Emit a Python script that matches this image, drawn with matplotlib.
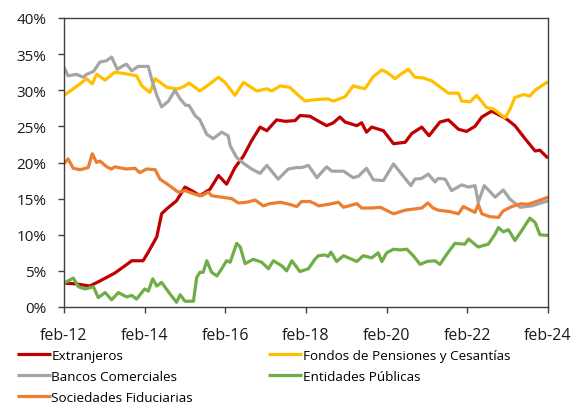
import matplotlib
matplotlib.use("Agg")
import matplotlib.pyplot as plt
from matplotlib.ticker import FuncFormatter, MultipleLocator

plt.rcParams["font.family"] = ["Open Sans", "DejaVu Sans"]

# Time axis: years elapsed since February 2012
tick_positions = [0, 2, 4, 6, 8, 10, 12]
tick_labels = ["feb-12", "feb-14", "feb-16", "feb-18", "feb-20", "feb-22", "feb-24"]

# Share of holdings (%) by investor type
ext_t = [0.0, 0.3, 0.64, 0.89, 1.26, 1.51, 1.68, 1.96, 2.09, 2.3, 2.42, 2.55, 2.79, 3.0,
         3.2, 3.37, 3.62, 3.83, 4.03, 4.24, 4.45, 4.65, 4.86, 5.03, 5.27, 5.48, 5.73, 5.85,
         6.1, 6.22, 6.51, 6.68, 6.84, 6.97, 7.26, 7.38, 7.5, 7.63, 7.92, 8.17, 8.46, 8.62,
         8.87, 9.05, 9.32, 9.53, 9.78, 9.98, 10.19, 10.36, 10.6, 10.93, 11.18, 11.43, 11.68,
         11.8, 12.0]
ext_v = [3.3, 3.2, 2.9, 3.6, 4.7, 5.7, 6.4, 6.4, 7.6, 9.7, 12.9, 13.6, 14.7, 16.6,
         16.0, 15.4, 16.3, 18.2, 17.0, 19.3, 20.9, 23.0, 24.9, 24.4, 25.9, 25.7, 25.8, 26.5,
         26.4, 26.0, 25.1, 25.5, 26.3, 25.6, 25.1, 25.5, 24.2, 24.9, 24.4, 22.6, 22.8, 24.0,
         24.9, 23.7, 25.6, 25.9, 24.6, 24.3, 25.0, 26.3, 27.1, 26.2, 25.1, 23.3, 21.6,
         21.7, 20.6]

fon_t = [0.0, 0.23, 0.4, 0.56, 0.7, 0.81, 1.02, 1.26, 1.51, 1.8, 1.93, 2.13, 2.26, 2.55,
         2.83, 3.0, 3.1, 3.37, 3.62, 3.83, 3.99, 4.24, 4.45, 4.78, 5.03, 5.15, 5.36, 5.6,
         5.81, 5.98, 6.22, 6.55, 6.68, 6.97, 7.17, 7.46, 7.67, 7.88, 8.0, 8.21, 8.37, 8.54,
         8.7, 8.91, 9.12, 9.53, 9.78, 9.86, 10.07, 10.23, 10.48, 10.65, 10.94, 11.06, 11.18,
         11.39, 11.55, 11.68, 12.0]
fon_v = [29.3, 30.2, 30.9, 31.6, 30.9, 32.2, 31.4, 32.5, 32.3, 32.0, 30.6, 29.7, 31.6, 30.4,
         30.2, 30.6, 31.0, 29.9, 30.9, 31.8, 31.1, 29.3, 31.1, 29.9, 30.2, 29.9, 30.6, 30.4,
         29.3, 28.5, 28.7, 28.8, 28.5, 29.1, 30.6, 30.2, 31.9, 32.8, 32.5, 31.6, 32.3, 32.9,
         31.8, 31.7, 31.3, 29.6, 29.6, 28.5, 28.4, 29.3, 27.6, 27.4, 26.2, 27.4, 29.0,
         29.4, 29.2, 30.0, 31.2]

ban_t = [0.0, 0.1, 0.31, 0.48, 0.56, 0.73, 0.89, 1.06, 1.18, 1.32, 1.47, 1.55, 1.68, 1.84,
         2.09, 2.17, 2.3, 2.42, 2.59, 2.75, 2.88, 3.02, 3.1, 3.25, 3.37, 3.54, 3.7, 3.91,
         4.07, 4.12, 4.28, 4.45, 4.65, 4.86, 5.03, 5.31, 5.56, 5.77, 5.9, 6.06, 6.27, 6.51,
         6.64, 6.93, 7.17, 7.3, 7.5, 7.67, 7.92, 8.17, 8.37, 8.6, 8.7, 8.87, 9.03, 9.2, 9.28,
         9.45, 9.61, 9.86, 10.03, 10.19, 10.27, 10.42, 10.69, 10.89, 11.06, 11.31, 11.6, 12.0]
ban_v = [33.2, 32.0, 32.2, 31.8, 32.2, 32.6, 33.9, 34.1, 34.6, 32.9, 33.4, 33.6, 32.7, 33.3,
         33.3, 31.6, 29.3, 27.7, 28.5, 30.0, 28.8, 27.9, 27.9, 26.5, 25.9, 23.9, 23.3, 24.2,
         23.7, 22.3, 20.7, 19.9, 19.1, 18.5, 19.6, 17.7, 19.1, 19.3, 19.3, 19.6, 17.9, 19.4,
         18.8, 18.8, 17.9, 18.1, 19.2, 17.6, 17.5, 19.8, 18.4, 16.8, 17.7, 17.8, 18.4, 17.3, 17.8,
         17.7, 16.1, 16.9, 16.6, 16.8, 14.5, 16.8, 15.2, 16.2, 14.9, 13.8, 14.0, 14.7]

ent_t = [0.0, 0.23, 0.36, 0.52, 0.73, 0.85, 1.02, 1.18, 1.35, 1.55, 1.68, 1.8, 2.0, 2.09,
         2.2, 2.3, 2.42, 2.63, 2.79, 2.88, 3.0, 3.21, 3.29, 3.37, 3.45, 3.54, 3.66, 3.79,
         3.91, 4.03, 4.12, 4.28, 4.37, 4.49, 4.69, 4.9, 5.07, 5.19, 5.4, 5.52, 5.65, 5.85,
         6.06, 6.22, 6.31, 6.47, 6.55, 6.62, 6.76, 6.93, 7.26, 7.42, 7.63, 7.79, 7.88, 8.0,
         8.17, 8.33, 8.5, 8.66, 8.83, 9.0, 9.2, 9.32, 9.49, 9.69, 9.94, 10.03, 10.27, 10.52,
         10.69, 10.77, 10.89, 11.02, 11.18, 11.34, 11.55, 11.68, 11.8, 12.0]
ent_v = [3.3, 4.0, 2.8, 2.5, 2.8, 1.3, 2.0, 1.0, 2.0, 1.4, 1.6, 1.1, 2.5, 2.2,
         3.9, 2.9, 3.4, 1.8, 0.65, 1.7, 0.8, 0.8, 4.1, 4.8, 4.8, 6.4, 4.8, 4.3,
         5.3, 6.4, 6.2, 8.8, 8.3, 6.0, 6.6, 6.2, 5.3, 6.4, 5.7, 5.0, 6.4, 4.9,
         5.3, 6.6, 7.1, 7.2, 7.0, 7.6, 6.3, 7.1, 6.3, 7.1, 6.8, 7.5, 6.3, 7.5,
         8.0, 7.9, 8.0, 7.1, 5.9, 6.3, 6.4, 5.9, 7.3, 8.8, 8.7, 9.4, 8.3, 8.7,
         10.1, 11.0, 10.4, 10.7, 9.2, 10.5, 12.3, 11.7, 10.0, 9.9]

soc_t = [0.0, 0.1, 0.23, 0.4, 0.6, 0.7, 0.81, 0.89, 1.06, 1.18, 1.26, 1.55, 1.76, 1.88,
         2.05, 2.26, 2.38, 2.59, 2.83, 3.0, 3.25, 3.41, 3.58, 3.66, 3.91, 4.16, 4.32, 4.53,
         4.74, 4.94, 5.1, 5.36, 5.6, 5.77, 5.89, 6.1, 6.22, 6.31, 6.55, 6.8, 6.93, 7.26,
         7.38, 7.63, 7.84, 8.17, 8.46, 8.87, 9.02, 9.15, 9.28, 9.57, 9.78, 9.9, 10.19, 10.27,
         10.36, 10.56, 10.77, 10.89, 11.1, 11.34, 11.5, 11.76, 12.0]
soc_v = [19.8, 20.5, 19.2, 19.0, 19.3, 21.2, 20.0, 20.2, 19.4, 19.1, 19.4, 19.1, 19.2, 18.6,
         19.1, 19.0, 17.7, 16.9, 15.9, 16.1, 15.6, 15.4, 15.9, 15.4, 15.2, 15.0, 14.4, 14.5,
         14.8, 14.0, 14.3, 14.5, 14.2, 13.9, 14.6, 14.6, 14.3, 14.0, 14.2, 14.5, 13.8, 14.3,
         13.7, 13.7, 13.8, 12.9, 13.4, 13.7, 14.4, 13.7, 13.4, 13.2, 12.9, 13.9, 13.1, 14.2,
         12.9, 12.5, 12.4, 13.3, 13.9, 14.3, 14.2, 14.7, 15.2]

series = [
    ("Extranjeros", ext_t, ext_v, "#C00000"),
    ("Fondos de Pensiones y Cesantías", fon_t, fon_v, "#FFC000"),
    ("Bancos Comerciales", ban_t, ban_v, "#A5A5A5"),
    ("Entidades Públicas", ent_t, ent_v, "#70AD47"),
    ("Sociedades Fiduciarias", soc_t, soc_v, "#ED7D31"),
]

fig = plt.figure(figsize=(5.82, 4.10), dpi=100)
ax = fig.add_axes([64 / 582, 1 - 308 / 410, (548 - 64) / 582, (308 - 19) / 410])

lines = {}
for name, t, v, color in series:
    (ln,) = ax.plot(t, v, color=color, lw=2.3, solid_joinstyle="round",
                    solid_capstyle="butt", label=name)
    lines[name] = ln

ax.set_xlim(0, 12)
ax.set_ylim(0, 40)
ax.set_xticks(tick_positions)
ax.set_xticklabels(tick_labels)
ax.yaxis.set_major_locator(MultipleLocator(5))
ax.yaxis.set_major_formatter(FuncFormatter(lambda y, _: f"{y:.0f}%"))

spine_color = "#404040"
for sp in ax.spines.values():
    sp.set_color(spine_color)
    sp.set_linewidth(1.0)
ax.tick_params(axis="both", direction="out", length=4.5, width=1.0,
               color=spine_color, labelsize=11, labelcolor="#1a1a1a")
ax.tick_params(axis="x", pad=10, labelsize=11.5)
ax.tick_params(axis="y", pad=8)

order = ["Extranjeros", "Bancos Comerciales", "Sociedades Fiduciarias",
         "Fondos de Pensiones y Cesantías", "Entidades Públicas"]
fig.legend([lines[n] for n in order], order, loc="upper left",
           bbox_to_anchor=(17 / 582, 1 - 350 / 410), ncol=2, frameon=False,
           fontsize=9.7, handlelength=2.5, handletextpad=0.05, columnspacing=5.6,
           labelspacing=0.6, borderpad=0, borderaxespad=0)

fig.savefig("out.png", dpi=100)
